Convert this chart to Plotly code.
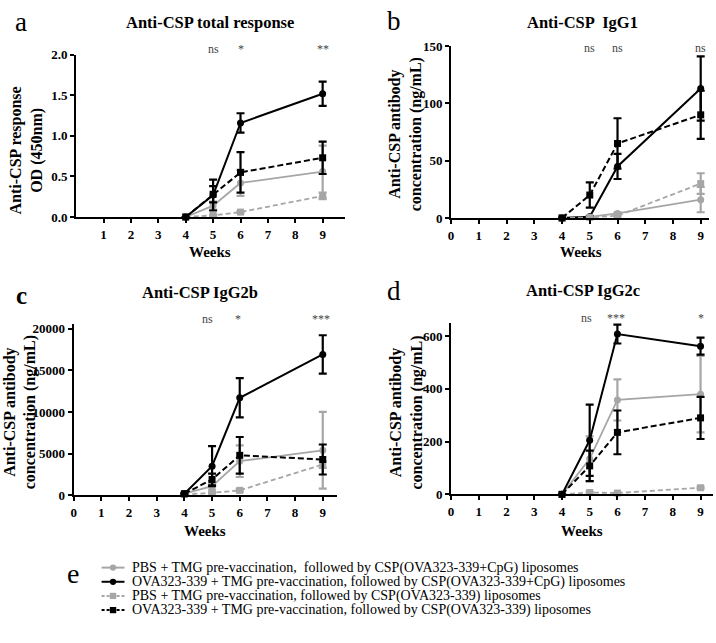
import plotly.graph_objects as go

W, H = 716, 643
weeks = [4, 5, 6, 9]

series_names = [
    "PBS + TMG pre-vaccination,  followed by CSP(OVA323-339+CpG) liposomes",
    "OVA323-339 + TMG pre-vaccination, followed by CSP(OVA323-339+CpG) liposomes",
    "PBS + TMG pre-vaccination, followed by CSP(OVA323-339) liposomes",
    "OVA323-339 + TMG pre-vaccination, followed by CSP(OVA323-339) liposomes",
]

# Panel a: total response OD(450nm)
a_pbs_cpg = [0.0, 0.14, 0.42, 0.56]
a_pbs_cpg_err = [0.0, 0.05, 0.16, 0.32]
a_ova_cpg = [0.0, 0.27, 1.16, 1.52]
a_ova_cpg_err = [0.0, 0.19, 0.12, 0.15]
a_pbs = [0.0, 0.02, 0.06, 0.26]
a_pbs_err = [0.0, 0.01, 0.01, 0.04]
a_ova = [0.0, 0.28, 0.55, 0.73]
a_ova_err = [0.0, 0.10, 0.25, 0.20]

# Panel b: IgG1 (ng/mL)
b_pbs_cpg = [0.0, 1.0, 4.0, 16.0]
b_pbs_cpg_err = [0.0, 0.5, 1.0, 11.0]
b_ova_cpg = [0.0, 1.0, 45.0, 113.0]
b_ova_cpg_err = [0.0, 0.5, 11.0, 28.0]
b_pbs = [0.0, 0.5, 2.0, 30.0]
b_pbs_err = [0.0, 0.3, 1.0, 9.0]
b_ova = [0.0, 20.0, 65.0, 90.0]
b_ova_err = [0.0, 11.0, 22.0, 21.0]

# Panel c: IgG2b (ng/mL)
c_pbs_cpg = [200, 1100, 4100, 5400]
c_pbs_cpg_err = [50, 400, 1900, 4600]
c_ova_cpg = [200, 3500, 11700, 16900]
c_ova_cpg_err = [50, 2400, 2350, 2300]
c_pbs = [100, 300, 600, 3700]
c_pbs_err = [30, 100, 150, 400]
c_ova = [200, 1900, 4800, 4300]
c_ova_err = [50, 700, 2200, 1800]

# Panel d: IgG2c (ng/mL)
d_pbs_cpg = [0, 135, 358, 380]
d_pbs_cpg_err = [0, 85, 78, 145]
d_ova_cpg = [0, 205, 608, 562]
d_ova_cpg_err = [0, 135, 36, 32]
d_pbs = [0, 7, 5, 25]
d_pbs_err = [0, 3, 2, 4]
d_ova = [0, 108, 235, 290]
d_ova_err = [0, 58, 83, 80]

sig_a = ["ns", "*", "**"]
sig_a_x = [5, 6, 9]
sig_b = ["ns", "ns", "ns"]
sig_b_x = [5, 6, 9]
sig_c = ["ns", "*", "***"]
sig_c_x = [4.85, 5.95, 8.95]
sig_d = ["ns", "***", "*"]
sig_d_x = [4.9, 5.95, 9.0]

GRAY = "#a6a6a6"
BLACK = "#000000"
styles = [
    dict(color=GRAY, dash="solid", symbol="circle", width=1.8),
    dict(color=BLACK, dash="solid", symbol="circle", width=2),
    dict(color=GRAY, dash="5px,3px", symbol="square", width=1.8),
    dict(color=BLACK, dash="6px,3px", symbol="square", width=2),
]

panels = [
    ("", [a_pbs_cpg, a_ova_cpg, a_pbs, a_ova], [a_pbs_cpg_err, a_ova_cpg_err, a_pbs_err, a_ova_err]),
    ("2", [b_pbs_cpg, b_ova_cpg, b_pbs, b_ova], [b_pbs_cpg_err, b_ova_cpg_err, b_pbs_err, b_ova_err]),
    ("3", [c_pbs_cpg, c_ova_cpg, c_pbs, c_ova], [c_pbs_cpg_err, c_ova_cpg_err, c_pbs_err, c_ova_err]),
    ("4", [d_pbs_cpg, d_ova_cpg, d_pbs, d_ova], [d_pbs_cpg_err, d_ova_cpg_err, d_pbs_err, d_ova_err]),
]

fig = go.Figure()
for suffix, vals, errs in panels:
    for i in range(4):
        st = styles[i]
        fig.add_trace(go.Scatter(
            x=weeks, y=vals[i], mode="lines+markers", name=series_names[i],
            xaxis="x" + suffix, yaxis="y" + suffix, showlegend=False,
            cliponaxis=False, hoverinfo="skip",
            line=dict(color=st["color"], dash=st["dash"], width=st["width"]),
            marker=dict(color=st["color"], symbol=st["symbol"], size=7),
            error_y=dict(type="data", array=errs[i], color=st["color"], thickness=2.2, width=4),
        ))

def px(x):
    return x / W

def py(y):
    return 1 - y / H

SERIF = "Liberation Serif, Times New Roman, serif"
axis_common = dict(showgrid=False, zeroline=False, showline=True, linecolor="black", linewidth=2,
                   ticks="outside", tickcolor="black", tickwidth=2, ticklen=4,
                   tickfont=dict(family=SERIF, size=13, color="black", weight="bold"))

def xax(l, r, rng, tickvals):
    return dict(axis_common, domain=[px(l), px(r)], range=rng, tickvals=tickvals,
                ticktext=[str(t) for t in tickvals])

def yax(t, b, rng, tickvals, fmt, anchor):
    return dict(axis_common, domain=[py(b), py(t)], range=rng, tickvals=tickvals,
                tickformat=fmt, exponentformat="none", anchor=anchor, ticklen=4)

layout = dict(
    width=W, height=H, margin=dict(l=0, r=0, t=0, b=0), autosize=False,
    paper_bgcolor="white", plot_bgcolor="white", showlegend=False,
    xaxis=dict(xax(73.5, 343, [0, 9.8], list(range(1, 10))), anchor="y"),
    yaxis=yax(49, 215, [0, 2.0], [0, 0.5, 1.0, 1.5, 2.0], ".1f", "x"),
    xaxis2=dict(xax(450, 709, [0, 9.3], list(range(0, 10))), anchor="y2"),
    yaxis2=yax(40, 216, [0, 150], [0, 50, 100, 150], "d", "x2"),
    xaxis3=dict(xax(71, 335, [0, 9.5], list(range(0, 10))), anchor="y3"),
    yaxis3=yax(325, 500, [0, 20500], [0, 5000, 10000, 15000, 20000], "d", "x3"),
    xaxis4=dict(xax(450, 713, [0, 9.45], list(range(0, 10))), anchor="y4"),
    yaxis4=yax(323.5, 499, [0, 650], [0, 200, 400, 600], "d", "x4"),
)
fig.update_layout(**layout)

ann = []
def txt(x, y, s, size, bold=False, angle=0, color="black", xanchor="center"):
    ann.append(dict(x=px(x), y=py(y), xref="paper", yref="paper", text=s, showarrow=False,
                    textangle=angle, xanchor=xanchor, yanchor="middle",
                    font=dict(family=SERIF, size=size, color=color, weight="bold" if bold else "normal")))

# panel letters
txt(18, 15, "a", 27)
txt(393, 14, "b", 27)
txt(19, 295, "c", 25, bold=True)
txt(393, 291, "d", 27)
txt(70, 580, "e", 28)

# titles
txt(208, 16, "Anti-CSP total response", 16.5, bold=True)
txt(582, 16, "Anti-CSP  IgG1", 16.5, bold=True)
txt(198, 292, "Anti-CSP IgG2b", 16.5, bold=True)
txt(582, 290, "Anti-CSP IgG2c", 16.5, bold=True)

# y titles
txt(24, 147, "Anti-CSP response<br>OD (450nm)", 16, bold=True, angle=-90)
txt(405, 130, "Anti-CSP antibody<br>concentration (ng/mL)", 16, bold=True, angle=-90)
txt(17, 415, "Anti-CSP antibody<br>concentration (ng/mL)", 16, bold=True, angle=-90)
txt(405, 415, "Anti-CSP antibody<br>concentration (ng/mL)", 16, bold=True, angle=-90)

# x titles
txt(208, 251, "Weeks", 15, bold=True)
txt(580, 251, "Weeks", 15, bold=True)
txt(203, 537, "Weeks", 15, bold=True)
txt(581, 537, "Weeks", 15, bold=True)

# significance labels
for xs, labs, xa, ya, yp in [(sig_a_x, sig_a, "x", "y", 43), (sig_b_x, sig_b, "x2", "y2", 42),
                             (sig_c_x, sig_c, "x3", "y3", 319), (sig_d_x, sig_d, "x4", "y4", 318)]:
    for xv, lab in zip(xs, labs):
        ann.append(dict(x=xv, y=py(yp), xref=xa, yref="paper", text=lab, showarrow=False,
                        yanchor="middle", font=dict(family=SERIF, size=12, color="#444444")))

# legend
rows = [574, 588.5, 603, 617.5]
shapes = []
for i, yr in enumerate(rows):
    st = styles[i]
    shapes.append(dict(type="line", xref="paper", yref="paper", x0=px(99), x1=px(122), y0=py(yr), y1=py(yr),
                       line=dict(color=st["color"], width=2, dash="solid" if st["dash"] == "solid" else "3px,2px")))
    r = 3.2
    shapes.append(dict(type="circle" if st["symbol"] == "circle" else "rect", xref="paper", yref="paper",
                       x0=px(110.5 - r), x1=px(110.5 + r), y0=py(yr + r), y1=py(yr - r),
                       fillcolor=st["color"], line=dict(color=st["color"], width=0)))
    ann.append(dict(x=px(129), y=py(yr), xref="paper", yref="paper", text=series_names[i],
                    showarrow=False, xanchor="left", yanchor="middle", borderpad=0,
                    font=dict(family=SERIF, size=14, color="black")))

fig.update_layout(annotations=ann, shapes=shapes)
fig.write_html("out.html", config={"displayModeBar": False, "staticPlot": True},
               post_script="document.body.style.margin='0';document.body.style.overflow='hidden';")
